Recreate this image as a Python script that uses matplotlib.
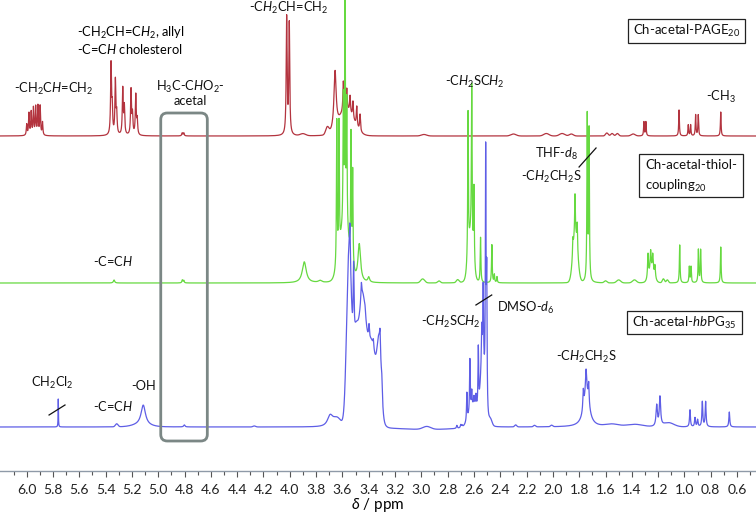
import numpy as np
import matplotlib
matplotlib.use('Agg')
import matplotlib.pyplot as plt
from matplotlib.patches import Rectangle, FancyBboxPatch

plt.rcParams['font.family'] = ['Lato', 'DejaVu Sans']
plt.rcParams['mathtext.fontset'] = 'custom'
plt.rcParams['mathtext.rm'] = 'Lato'
plt.rcParams['mathtext.it'] = 'Lato:italic'
plt.rcParams['mathtext.bf'] = 'Lato:bold'

# chemical shift grid (ppm), high field on the right
ppm = np.linspace(6.203, 0.456, 14000)

# ---- peak tables ----
# sharp lines (lorentzian): position ppm, height, half width
# broad humps (gaussian): position ppm, height, sigma

# Ch-acetal-PAGE20 (red)
page_pos = [6.000, 5.983, 5.966, 5.949, 5.932, 5.915, 5.898, 5.880,
            5.359, 5.350, 5.326, 5.316, 5.270, 5.258, 5.207, 5.196, 5.171, 5.160,
            4.818, 4.806, 4.024, 4.004,
            3.656, 3.593, 3.567, 3.542, 3.520, 3.491, 3.466,
            1.308, 1.293, 1.041, 0.971, 0.953, 0.915, 0.895, 0.724]
page_h = [11, 22, 23, 27, 28, 29, 29, 13,
          70, 25, 54, 20, 46, 28, 45, 20, 40, 15,
          3, 3, 117, 111,
          58, 30, 21, 17, 17, 20, 17,
          14, 14, 26, 11, 11, 21, 21, 24]
page_w = [0.0035] * 8 + [0.004] * 14 + [0.01] + [0.004] * 6 + [0.003] * 8
page_band_pos = [3.900, 3.570, 3.715, 2.98, 2.30, 2.05, 1.93, 1.86, 1.59, 1.55, 1.51, 1.39]
page_band_h = [2, 25, 7, 1.5, 2, 2.5, 2.5, 2, 3, 2.5, 2.5, 2]
page_band_s = [0.02, 0.055, 0.012, 0.02, 0.02, 0.02, 0.02, 0.015, 0.01, 0.01, 0.01, 0.015]

# Ch-acetal-thiol-coupling20 (green)
thiol_pos = [5.336, 4.817, 4.806, 3.890, 3.770,
             3.643, 3.626, 3.593, 3.580, 3.567, 3.535, 3.522, 3.472, 3.400,
             2.645, 2.617, 2.600, 2.550, 2.464, 2.445, 2.425,
             1.848, 1.832, 1.815, 1.739, 1.725,
             1.277, 1.257, 1.241, 1.224, 1.036, 0.963, 0.950, 0.894, 0.877, 0.724]
thiol_h = [3, 3, 2.5, 21, 2,
           145, 130, 125, 215, 125, 125, 95, 38, 5,
           146, 155, 76, 45, 38, 8, 6,
           15, 40, 25, 165, 150,
           24, 20, 17, 12, 38, 16, 16, 33, 33, 36]
thiol_w = ([0.006, 0.004, 0.004, 0.018, 0.015] + [0.003] * 7 + [0.012, 0.008]
           + [0.003] * 7 + [0.003] * 5 + [0.004] * 4 + [0.003] * 6)
thiol_band_pos = [3.585, 2.625, 1.830, 1.250, 2.990, 2.866, 2.724, 1.600, 1.500, 1.380, 1.160, 1.130]
thiol_band_h = [55, 45, 48, 12, 4, 2, 3, 2, 3, 3, 4, 3]
thiol_band_s = [0.035, 0.018, 0.018, 0.02, 0.015, 0.01, 0.01, 0.01, 0.015, 0.015, 0.008, 0.008]

# Ch-acetal-hbPG35 (blue)
hbpg_pos = [5.760, 5.114, 4.802, 3.694,
            3.543, 3.515, 3.456, 3.428, 3.398, 3.365, 3.314, 3.301,
            2.730, 2.700, 2.690, 2.654, 2.631, 2.617, 2.600, 2.585, 2.567, 2.541, 2.530, 2.511, 2.503,
            1.745, 1.769, 1.748, 1.728, 1.211, 1.186, 0.958, 0.920, 0.900, 0.864, 0.839, 0.659]
hbpg_h = [28, 20, 2, 11,
          36, 75, 16, 5, 14, 8, 20, 15,
          3, 3, 2, 28, 53, 16, 8, 11, 60, 35, 75, 250, 130,
          35, 19, 22, 20, 21, 29, 17, 9, 7, 25, 25, 15]
hbpg_w = ([0.0015, 0.02, 0.006, 0.025] + [0.004] * 8 + [0.004] * 3 + [0.003] * 10
          + [0.025, 0.004, 0.005, 0.004, 0.006, 0.006] + [0.004] * 6)
hbpg_band_pos = [5.316, 5.130, 4.270, 3.640, 3.550, 3.500, 3.450, 3.380, 3.320, 2.959,
                 2.600, 2.535, 2.475, 2.283, 2.140, 2.010, 1.550, 1.380, 1.120, 2.950]
hbpg_band_h = [3, 2, 1, 8, 170, 80, 110, 85, 60, 3,
               22, 60, 6, 2, 1.5, 1.5, 2.5, 2.5, 4, -2.5]
hbpg_band_s = [0.01, 0.06, 0.01, 0.03, 0.018, 0.02, 0.025, 0.04, 0.015, 0.03,
               0.035, 0.015, 0.012, 0.008, 0.008, 0.008, 0.05, 0.06, 0.04, 0.25]

offsets = {'page': 335, 'thiol': 188, 'hbpg': 44}


def spectrum(pos, h, w, bpos, bh, bs):
    y = np.zeros_like(ppm)
    for c, a, g in zip(pos, h, w):
        y += a / (1 + ((ppm - c) / g) ** 2)
    for c, a, s in zip(bpos, bh, bs):
        y += a * np.exp(-0.5 * ((ppm - c) / s) ** 2)
    return y


red = spectrum(page_pos, page_h, page_w, page_band_pos, page_band_h, page_band_s)
green = spectrum(thiol_pos, thiol_h, thiol_w, thiol_band_pos, thiol_band_h, thiol_band_s)
blue = spectrum(hbpg_pos, hbpg_h, hbpg_w, hbpg_band_pos, hbpg_band_h, hbpg_band_s)

fig = plt.figure(figsize=(7.56, 5.14), dpi=100)
ax = fig.add_axes([0, 43 / 514, 1, 471 / 514])

ax.plot(ppm, red + offsets['page'], color='#b3343f', lw=0.9)
ax.plot(ppm, green + offsets['thiol'], color='#66d940', lw=0.9)
ax.plot(ppm, blue + offsets['hbpg'], color='#5e5ee6', lw=0.9)

ax.set_xlim(6.203, 0.456)
ax.set_ylim(0, 471)
ax.set_yticks([])
for s in ['top', 'left', 'right']:
    ax.spines[s].set_visible(False)
ax.spines['bottom'].set_color('#8f9aa8')
ax.spines['bottom'].set_linewidth(1.0)
major = np.round(np.arange(0.6, 6.01, 0.2), 1)
ax.set_xticks(major)
ax.set_xticks(np.round(np.arange(0.5, 6.15, 0.1), 1), minor=True)
ax.set_xticklabels(['%.1f' % v for v in major])
ax.tick_params(axis='x', which='major', length=4, width=0.8, color='#555555',
               labelsize=10, pad=5, labelcolor='#222222')
ax.tick_params(axis='x', which='minor', length=3, width=0.8, color='#555555')
ax.set_xlabel('$\\delta$ / ppm', fontsize=11, labelpad=0)

# acetal region frame
frame = FancyBboxPatch((4.627, 30), 0.354, 328,
                       boxstyle='round,pad=0,rounding_size=0.05',
                       mutation_aspect=131.55, fill=False, ec='#7b8785', lw=2, zorder=5)
ax.add_patch(frame)

fs = 9.3
tk = dict(fontsize=fs, color='#111111', ha='center', va='center')

# red annotations
ax.text(5.798, 382, '-CH$_2$C$\\mathit{H}$=CH$_2$', **tk)
ax.text(5.618, 438, '-CH$_2$CH=C$\\mathit{H_2}$, allyl', fontsize=fs, ha='left', va='center')
ax.text(5.618, 422, '-C=C$\\mathit{H}$ cholesterol', fontsize=fs, ha='left', va='center')
ax.text(4.759, 384, 'H$_3$C-C$\\mathit{H}$O$_2$-', **tk)
ax.text(4.759, 370, 'acetal', **tk)
ax.text(4.006, 463, '-C$\\mathit{H_2}$CH=CH$_2$', **tk)
ax.text(2.592, 389, '-C$\\mathit{H_2}$SC$\\mathit{H_2}$', **tk)
ax.text(0.722, 374, '-CH$_3$', **tk)
ax.text(1.976, 317, 'THF-$\\mathit{d}_8$', **tk)
ax.plot([1.801, 1.672], [304, 323], color='#111111', lw=0.9)

# green annotations
ax.text(2.015, 294, '-C$\\mathit{H_2}$CH$_2$S', **tk)
ax.text(5.343, 210, '-C=C$\\mathit{H}$', **tk)
ax.text(2.204, 163, 'DMSO-$\\mathit{d}_6$', **tk)
ax.plot([2.585, 2.465], [166, 176], color='#111111', lw=0.9)

# blue annotations
ax.text(2.775, 149, '-C$\\mathit{H_2}$SC$\\mathit{H_2}$', **tk)
ax.text(1.742, 114, '-C$\\mathit{H_2}$CH$_2$S', **tk)
ax.text(5.808, 88, 'CH$_2$Cl$_2$', **tk)
ax.plot([5.830, 5.709], [56, 66], color='#111111', lw=0.9)
ax.text(5.343, 65, '-C=C$\\mathit{H}$', **tk)
ax.text(5.108, 85, '-OH', **tk)

# sample labels in boxes
bk = dict(fontsize=9.5, color='#111111', va='center')
ax.add_patch(Rectangle((0.540, 428), 0.889, 24, fill=False, ec='#222222', lw=0.9))
ax.text(0.985, 440, 'Ch-acetal-PAGE$_{20}$', ha='center', **bk)
ax.add_patch(Rectangle((0.555, 274), 0.794, 43, fill=False, ec='#222222', lw=0.9))
ax.text(1.300, 306, 'Ch-acetal-thiol-', ha='left', **bk)
ax.text(1.300, 285, 'coupling$_{20}$', ha='left', **bk)
ax.add_patch(Rectangle((0.565, 137), 0.874, 23.3, fill=False, ec='#222222', lw=0.9))
ax.text(1.002, 148.5, 'Ch-acetal-$\\mathit{hb}$PG$_{35}$', ha='center', **bk)

fig.savefig('out.png', dpi=100)
